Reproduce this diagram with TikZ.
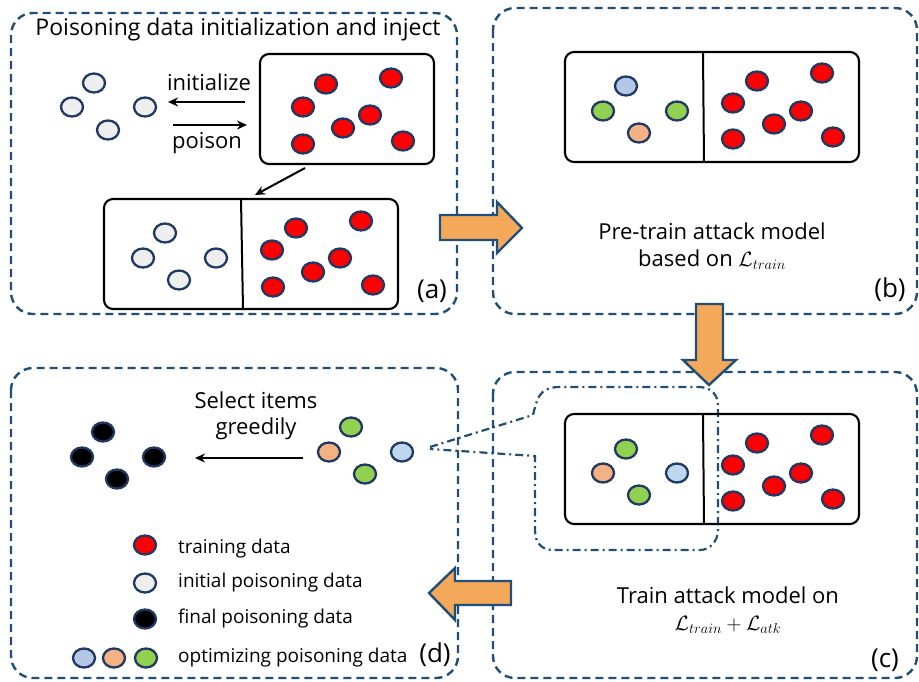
\documentclass[tikz,border=0pt]{standalone}
\usepackage{fontspec}
\setmainfont{Open Sans}
\usetikzlibrary{shapes.geometric,arrows.meta}
\definecolor{dblue}{RGB}{31,78,121}
\definecolor{cborder}{RGB}{31,56,100}
\definecolor{cred}{RGB}{255,0,0}
\definecolor{cinit}{RGB}{238,238,238}
\definecolor{clb}{RGB}{180,199,231}
\definecolor{clb2}{RGB}{189,215,238}
\definecolor{cgreen}{RGB}{146,208,80}
\definecolor{corange}{RGB}{244,177,131}
\definecolor{carrow}{RGB}{244,168,90}
\begin{document}
\begin{tikzpicture}[x=1pt,y=-1pt,
  panel/.style={draw=dblue,line width=2.4pt,dash pattern=on 8pt off 5pt,rounded corners=22pt},
  databox/.style={draw=black,line width=2.1pt,rounded corners=9pt},
  divider/.style={draw=black,line width=2pt},
  ball/.style={ellipse,draw=cborder,line width=2.3pt,minimum width=22pt,minimum height=19pt,inner sep=0pt},
  conn/.style={draw=black,line width=2pt,-{Stealth[length=10pt,width=9pt]}},
  big/.style={fill=carrow,draw=dblue,line width=2.4pt,line join=miter},
  callout/.style={draw=dblue,line width=2.2pt,dash pattern=on 8pt off 4pt on 2pt off 4pt},
  txt/.style={font=\fontsize{22}{26}\selectfont,inner sep=0pt},
  lbl/.style={font=\fontsize{26}{30}\selectfont,inner sep=0pt},
  leg/.style={font=\fontsize{19}{22}\selectfont,inner sep=0pt,anchor=west}]
\useasboundingbox (0,0) rectangle (919,681);

% panels
\draw[panel] (11,13) rectangle (457,314);
\draw[panel] (493,8) rectangle (917,314);
\draw[panel] (493,372) rectangle (917,678);
\draw[panel] (11,368) rectangle (458,678);

% ---------- panel (a)
\node[txt,font=\fontsize{23}{26}\selectfont] (title) at (238,30) {Poisoning data initialization and inject};
\foreach \n/\x/\y in {1/94/83,2/72/107,3/145/107,4/108/130}
  \node[ball,fill=cinit] (ai\n) at (\x,\y) {};
\draw[databox] (260,54) rectangle (434,164);
\coordinate (boxA1) at (305,168);
\foreach \n/\x/\y in {1/326/84,2/391/78,3/303/107,4/370/115,5/343/128,6/303/144,7/403/141}
  \node[ball,fill=cred] (ar\n) at (\x,\y) {};
\coordinate (iniS) at (245,102); \coordinate (iniE) at (168,102);
\coordinate (poiS) at (173,125); \coordinate (poiE) at (247,125);
\draw[conn] (iniS) -- (iniE);
\draw[conn] (poiS) -- (poiE);
\node[txt] (tinit) at (209,82) {initialize};
\node[txt] (tpois) at (207,143) {poison};
\draw[databox] (104,199) rectangle (398,309);
\draw[divider] (241,199) -- (243,309);
\coordinate (boxA2) at (255,195);
\draw[conn] (boxA1) -- (boxA2);
\foreach \n/\x/\y in {1/165/233,2/143/258,3/216/258,4/179/280}
  \node[ball,fill=cinit] (bi\n) at (\x,\y) {};
\foreach \n/\x/\y in {1/296/228,2/361/221,3/272/250,4/340/258,5/313/272,6/273/287,7/373/285}
  \node[ball,fill=cred] (br\n) at (\x,\y) {};
\node[lbl] (la) at (432,291) {(a)};

% ---------- panel (b)
\draw[databox] (565,52) rectangle (859,162);
\draw[divider] (703,53) -- (704,162);
\foreach \n/\x/\y in {1/757/81,2/822/73,3/733/103,4/801/111,5/774/124,6/733/139,7/833/137}
  \node[ball,fill=cred] (cr\n) at (\x,\y) {};
\node[ball,fill=clb] (cp1) at (626,86) {};
\node[ball,fill=cgreen] (cp2) at (603,111) {};
\node[ball,fill=cgreen] (cp3) at (677,111) {};
\node[ball,fill=corange] (cp4) at (639,133) {};
\node[txt,align=center] (tb) at (712,246) {Pre-train attack model\\[1pt]based on $\mathcal{L}_{train}$};
\node[lbl] (lb) at (890,290) {(b)};

% ---------- panel (c)
\draw[callout] (430,447) -- (533,415) .. controls (537,400) and (538,388) .. (558,387)
  -- (700,387) .. controls (712,388) and (718,395) .. (718,406) -- (718,530)
  .. controls (718,541) and (710,550) .. (700,550) -- (553,550)
  .. controls (541,550) and (535,542) .. (535,530) -- (535,456) -- (430,449);
\draw[databox] (565,414) rectangle (859,524);
\draw[divider] (703,415) -- (704,524);
\foreach \n/\x/\y in {1/757/443,2/822/435,3/733/465,4/801/473,5/774/486,6/733/501,7/833/499}
  \node[ball,fill=cred] (dr\n) at (\x,\y) {};
\node[ball,fill=cgreen] (dp1) at (626,449) {};
\node[ball,fill=corange] (dp2) at (603,473) {};
\node[ball,fill=clb2] (dp3) at (677,473) {};
\node[ball,fill=cgreen] (dp4) at (639,495) {};
\node[txt,align=center] (tc) at (728,610) {Train attack model on\\[1pt]$\mathcal{L}_{train}+\mathcal{L}_{atk}$};
\node[lbl] (lc) at (885,660) {(c)};

% ---------- panel (d)
\foreach \n/\x/\y in {1/103/432,2/82/457,3/154/457,4/117/479}
  \node[ball,fill=black] (ef\n) at (\x,\y) {};
\node[ball,fill=cgreen] (ep1) at (351,427) {};
\node[ball,fill=corange] (ep2) at (329,452) {};
\node[ball,fill=clb2] (ep3) at (402,452) {};
\node[ball,fill=cgreen] (ep4) at (365,474) {};
\coordinate (selS) at (303,458); \coordinate (selE) at (195,458);
\draw[conn] (selS) -- (selE);
\node[txt,align=center] (tsel) at (256,416) {Select items\\greedily};
\node[ball,fill=cred] (g1) at (145,545) {};
\node[ball,fill=cinit] (g2) at (145,583) {};
\node[ball,fill=black] (g3) at (145,619) {};
\node[ball,fill=clb] (g4) at (84,658) {};
\node[ball,fill=corange] (g5) at (114,658) {};
\node[ball,fill=cgreen] (g6) at (146,658) {};
\node[leg] (t1) at (178,549) {training data};
\node[leg] (t2) at (178,583) {initial poisoning data};
\node[leg] (t3) at (178,619) {final poisoning data};
\node[leg] (t4) at (178,658) {optimizing poisoning data};
\node[lbl] (ld) at (435,655) {(d)};

% ---------- big arrows
\draw[big] (440,215) -- (497,215) -- (497,202) -- (522,228) -- (497,253) -- (497,240) -- (440,240) -- cycle;
\draw[big] (696,304) -- (723,304) -- (723,360) -- (736,360) -- (709,385) -- (683,360) -- (696,360) -- cycle;
\draw[big] (511,581) -- (455,581) -- (455,568) -- (429,593) -- (455,620) -- (455,605) -- (511,605) -- cycle;
\end{tikzpicture}
\end{document}
